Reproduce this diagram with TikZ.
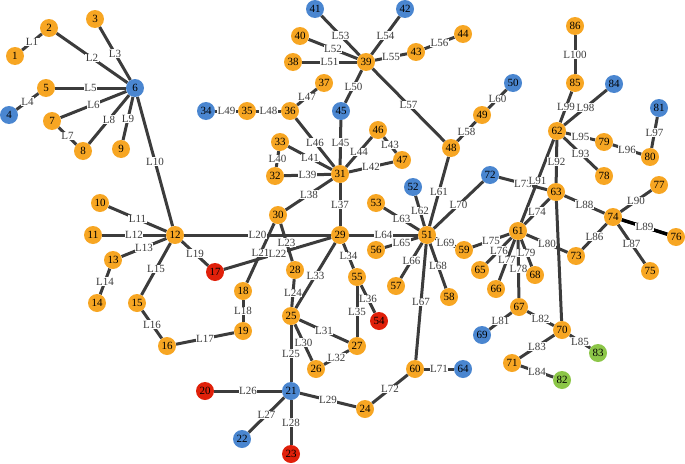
\documentclass[tikz,border=0pt]{standalone}
\usepackage{fontspec}
\setmainfont{Liberation Serif}
\pgfdeclarelayer{edges}
\pgfdeclarelayer{labels}
\pgfsetlayers{edges,labels,main}
\definecolor{cor}{RGB}{247,166,35}
\definecolor{cbl}{RGB}{74,134,208}
\definecolor{crd}{RGB}{224,32,10}
\definecolor{cgr}{RGB}{140,198,72}
\definecolor{cedge}{RGB}{60,60,60}
\tikzset{
  vtx/.style={circle,inner sep=0pt,minimum size=18pt,font=\fontsize{11}{11}\selectfont,text=black},
  vor/.style={vtx,fill=cor},
  vbl/.style={vtx,fill=cbl},
  vrd/.style={vtx,fill=crd},
  vgr/.style={vtx,fill=cgr},
  edge/.style={draw=cedge,line width=3pt},
  lbl/.style={fill=white,inner sep=0.5pt,font=\fontsize{11}{11}\selectfont,text=cedge}
}
\begin{document}
\begin{tikzpicture}[x=1pt,y=-1pt]
\useasboundingbox (0,0) rectangle (685,463);
\foreach \n/\x/\y/\c in {
1/15/56/vor,2/49/28/vor,3/95/19/vor,4/9/115/vbl,5/46/88/vor,6/135/88/vbl,7/52/121/vor,8/83/151/vor,9/121/149/vor,
10/100/203/vor,11/93/235/vor,12/175/235/vor,13/113/260/vor,14/97/303/vor,15/137/303/vor,16/167/346/vor,17/215/272/vrd,
18/243/291/vor,19/243/331/vor,20/205/391/vrd,21/291/391/vbl,22/242/439/vbl,23/291/454/vrd,24/365/409/vor,25/291/316/vor,
26/316/369/vor,27/357/346/vor,28/295/270/vor,29/340/235/vor,30/278/215/vor,31/340/174/vor,32/275/176/vor,33/280/142/vor,
34/206/111/vbl,35/247/111/vor,36/290/111/vor,37/324/83/vor,38/293/62/vor,39/366/62/vor,40/300/36/vor,41/315/9/vbl,
42/405/9/vbl,43/416/52/vor,44/463/34/vor,45/341/111/vbl,46/378/130/vor,47/402/160/vor,48/451/148/vor,49/482/115/vor,
50/513/83/vbl,51/427/235/vor,52/413/187/vbl,53/376/203/vor,54/379/321/vrd,55/357/277/vor,56/376/250/vor,57/396/286/vor,
58/449/297/vor,59/464/250/vor,60/415/369/vor,61/518/231/vor,62/557/131/vor,63/556/192/vor,64/463/369/vbl,65/480/270/vor,
66/496/289/vor,67/519/307/vor,68/535/275/vor,69/482/335/vbl,70/562/330/vor,71/512/363/vor,72/490/175/vbl,73/576/256/vor,
74/613/217/vor,75/650/271/vor,76/676/237/vor,77/659/185/vor,78/604/176/vor,79/604/142/vor,80/650/157/vor,81/659/108/vbl,
82/562/380/vgr,83/598/353/vgr,84/614/84/vbl,85/575/83/vor,86/575/26/vor}
  {\node[\c] (n\n) at (\x,\y) {\n};}
\def\edgelist{1/2/L1,2/6/L2,3/6/L3,4/5/L4,5/6/L5,6/7/L6,7/8/L7,8/6/L8,9/6/L9,6/12/L10,
10/12/L11,11/12/L12,13/12/L13,13/14/L14,12/15/L15,15/16/L16,16/19/L17,18/19/L18,12/17/L19,12/29/L20,
30/18/L21,17/29/L22,30/28/L23,28/25/L24,25/21/L25,20/21/L26,21/22/L27,21/23/L28,21/24/L29,25/26/L30,
25/27/L31,26/27/L32,25/29/L33,29/55/L34,55/27/L35,55/54/L36,29/31/L37,30/31/L38,32/31/L39,32/33/L40,
33/31/L41,31/47/L42,46/47/L43,31/46/L44,31/45/L45,31/36/L46,36/37/L47,35/36/L48,34/35/L49,45/39/L50,
38/39/L51,40/39/L52,41/39/L53,42/39/L54,39/43/L55,43/44/L56,39/48/L57,48/49/L58,49/50/L60,48/51/L61,
52/51/L62,53/51/L63,29/51/L64,56/51/L65,57/51/L66,51/60/L67,51/58/L68,51/59/L69,51/72/L70,60/64/L71,
24/60/L72,72/63/L73,61/63/L74,59/61/L75,65/61/L76,66/61/L77,61/67/L78,61/68/L79,61/73/L80,67/69/L81,
67/70/L82,70/71/L83,71/82/L84,70/83/L85,73/74/L86,74/75/L87,63/74/L88,74/76/L89,74/77/L90,61/62/L91,
62/63/L92,62/78/L93,62/79/L95,79/80/L96,80/81/L97,62/84/L98,62/85/L99,85/86/L100}
\begin{pgfonlayer}{edges}
\foreach \a/\b/\l in \edgelist {\draw[edge] (n\a) -- (n\b);}
\draw[edge] (n63) -- (n70);
\draw[line width=3.4pt,black] (n74) -- (n76);
\end{pgfonlayer}
\begin{pgfonlayer}{labels}
\foreach \a/\b/\l in \edgelist {\path (n\a) -- (n\b) node[lbl,midway] {\l};}
\end{pgfonlayer}
\end{tikzpicture}
\end{document}
